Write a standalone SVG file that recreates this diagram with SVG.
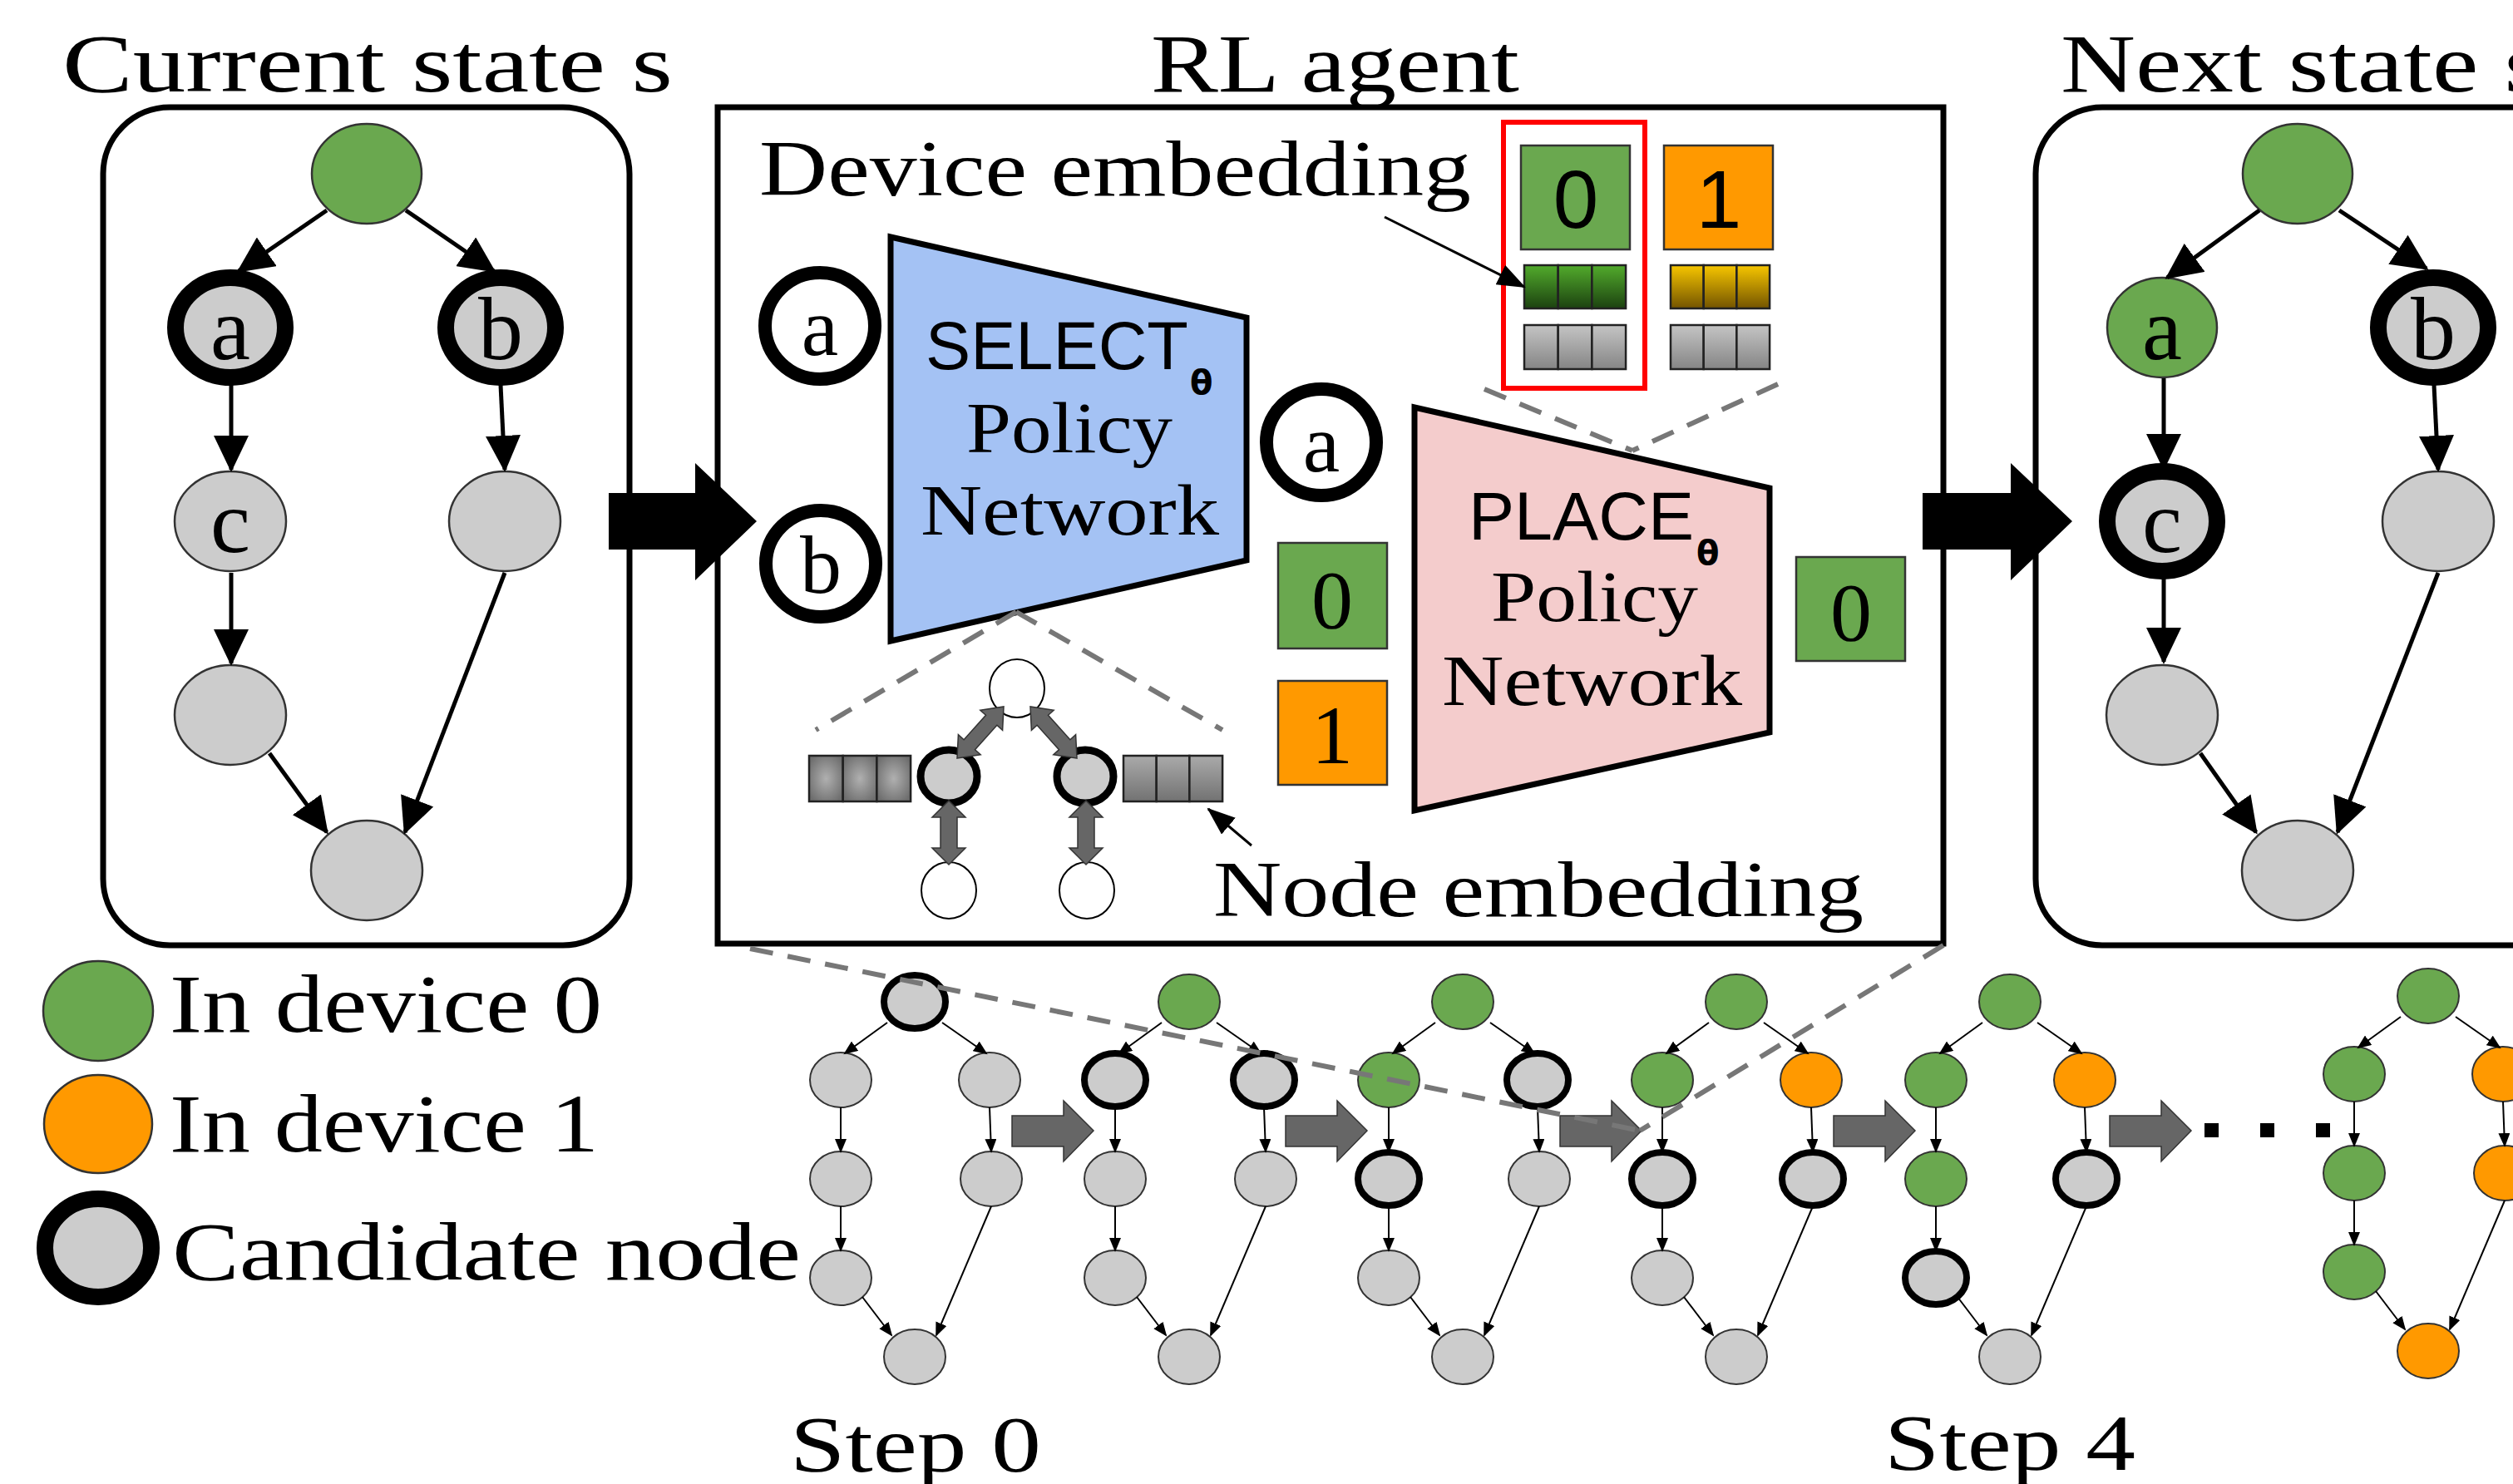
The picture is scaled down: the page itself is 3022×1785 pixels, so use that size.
<svg xmlns="http://www.w3.org/2000/svg" width="3022" height="1785" viewBox="0 0 3022 1785">
<style>
.t{font-family:"Liberation Serif","DejaVu Serif",serif;fill:#000}
.s{font-family:"Liberation Sans",Arial,sans-serif;fill:#000}
.th{font-family:"DejaVu Sans","Liberation Sans",sans-serif;font-weight:bold;fill:#000}
.g{fill:#6aa84f;stroke:#333;stroke-width:2.5}
.o{fill:#ff9900;stroke:#333;stroke-width:2.5}
.gr{fill:#cccccc;stroke:#333;stroke-width:2.5}
.cand{fill:#cccccc;stroke:#000;stroke-width:20}
.ring{fill:#fff;stroke:#000;stroke-width:16}
.sg{fill:#6aa84f;stroke:#333;stroke-width:2}
.so{fill:#ff9900;stroke:#333;stroke-width:2}
.sgr{fill:#cccccc;stroke:#333;stroke-width:2}
.sc{fill:#cccccc;stroke:#000;stroke-width:8}
.edge{stroke:#000;stroke-width:5;fill:none;marker-end:url(#ah)}
.sedge{stroke:#000;stroke-width:2;fill:none;marker-end:url(#sah)}
.ann{stroke:#000;stroke-width:3;fill:none;marker-end:url(#mah)}
.dash{stroke:#777;stroke-width:6;stroke-dasharray:28 18;fill:none}
.box{fill:none;stroke:#000;stroke-width:7}
.cell{stroke:#222;stroke-width:2.5}
.blk{fill:#666;stroke:#333;stroke-width:1.5}
</style>
<defs>
<marker id="ah" markerUnits="userSpaceOnUse" markerWidth="46" markerHeight="42" refX="41" refY="21" orient="auto"><path d="M0,0 L44,21 L0,42 z" fill="#000"/></marker>
<marker id="sah" markerUnits="userSpaceOnUse" markerWidth="18" markerHeight="14" refX="15" refY="7" orient="auto"><path d="M0,0 L17,7 L0,14 z" fill="#000"/></marker>
<marker id="mah" markerUnits="userSpaceOnUse" markerWidth="36" markerHeight="26" refX="32" refY="13" orient="auto"><path d="M0,0 L34,13 L0,26 z" fill="#000"/></marker>
<linearGradient id="gG" x1="0" y1="0" x2="0" y2="1"><stop offset="0" stop-color="#52ab2c"/><stop offset="1" stop-color="#1c4210"/></linearGradient>
<linearGradient id="gO" x1="0" y1="0" x2="0" y2="1"><stop offset="0" stop-color="#f7c600"/><stop offset="1" stop-color="#735400"/></linearGradient>
<linearGradient id="gY" x1="0" y1="0" x2="0" y2="1"><stop offset="0" stop-color="#c4c4c4"/><stop offset="1" stop-color="#858585"/></linearGradient>
<linearGradient id="gV" x1="0" y1="0" x2="0" y2="1"><stop offset="0" stop-color="#aaa"/><stop offset="1" stop-color="#727272"/></linearGradient>
<radialGradient id="gR" cx="0.5" cy="0.5" r="0.6"><stop offset="0" stop-color="#b0b0b0"/><stop offset="1" stop-color="#6e6e6e"/></radialGradient>
</defs>

<!-- titles -->
<text class="t" x="75" y="110" font-size="100" textLength="734" lengthAdjust="spacingAndGlyphs">Current state s</text>
<text class="t" x="1384" y="110" font-size="100" textLength="443" lengthAdjust="spacingAndGlyphs">RL agent</text>
<text class="t" x="2478" y="110" font-size="100" textLength="582" lengthAdjust="spacingAndGlyphs">Next state s</text>

<!-- containers -->
<rect id="current-state" class="box" x="124" y="129" width="633" height="1008" rx="80" ry="80"/>
<rect id="next-state" class="box" x="2448" y="129" width="700" height="1008" rx="80" ry="80"/>
<rect id="rl-agent" class="box" x="863" y="129" width="1474" height="1006"/>

<!-- left panel nodes -->
<g id="cur-top"><ellipse class="g" cx="441" cy="209" rx="66" ry="60"/></g>
<g id="cur-a"><ellipse class="cand" cx="277" cy="394" rx="66" ry="60"/><text class="t" x="277" y="432" font-size="108" text-anchor="middle">a</text></g>
<g id="cur-b"><ellipse class="cand" cx="602" cy="394" rx="66" ry="60"/><text class="t" x="602" y="432" font-size="108" text-anchor="middle">b</text></g>
<g id="cur-c"><ellipse class="gr" cx="277" cy="627" rx="67" ry="60"/><text class="t" x="277" y="664" font-size="108" text-anchor="middle">c</text></g>
<g id="cur-r2"><ellipse class="gr" cx="607" cy="627" rx="67" ry="60"/></g>
<g id="cur-r3"><ellipse class="gr" cx="277" cy="860" rx="67" ry="60"/></g>
<g id="cur-bottom"><ellipse class="gr" cx="441" cy="1047" rx="67" ry="60"/></g>

<!-- right panel nodes -->
<g id="next-top"><ellipse class="g" cx="2763" cy="209" rx="66" ry="60"/></g>
<g id="next-a"><ellipse class="g" cx="2600" cy="394" rx="66" ry="60"/><text class="t" x="2600" y="432" font-size="108" text-anchor="middle">a</text></g>
<g id="next-b"><ellipse class="cand" cx="2926" cy="394" rx="66" ry="60"/><text class="t" x="2926" y="432" font-size="108" text-anchor="middle">b</text></g>
<g id="next-c"><ellipse class="cand" cx="2600" cy="627" rx="66" ry="60"/><text class="t" x="2600" y="664" font-size="108" text-anchor="middle">c</text></g>
<g id="next-r2"><ellipse class="gr" cx="2932" cy="627" rx="67" ry="60"/></g>
<g id="next-r3"><ellipse class="gr" cx="2600" cy="860" rx="67" ry="60"/></g>
<g id="next-bottom"><ellipse class="gr" cx="2763" cy="1047" rx="67" ry="60"/></g>

<!-- RL agent contents -->
<text class="t" x="913" y="235" font-size="96" textLength="856" lengthAdjust="spacingAndGlyphs">Device embedding</text>

<g id="select-net">
<polygon points="1071,285 1499,382 1499,674 1071,771" fill="#a4c2f4" stroke="#000" stroke-width="7"/>
<text class="s" x="1113" y="444" font-size="82" textLength="316" lengthAdjust="spacingAndGlyphs">SELECT</text>
<text class="th" x="1431" y="474" font-size="40">θ</text>
<text class="t" x="1162" y="544" font-size="86" textLength="248" lengthAdjust="spacingAndGlyphs">Policy</text>
<text class="t" x="1107" y="643" font-size="86" textLength="359" lengthAdjust="spacingAndGlyphs">Network</text>
</g>

<g id="place-net">
<polygon points="1701,490 2128,587 2128,881 1701,975" fill="#f4cccc" stroke="#000" stroke-width="7"/>
<text class="s" x="1766" y="649" font-size="82" textLength="271" lengthAdjust="spacingAndGlyphs">PLACE</text>
<text class="th" x="2040" y="679" font-size="40">θ</text>
<text class="t" x="1793" y="747" font-size="86" textLength="249" lengthAdjust="spacingAndGlyphs">Policy</text>
<text class="t" x="1734" y="848" font-size="86" textLength="361" lengthAdjust="spacingAndGlyphs">Network</text>
</g>

<g id="in-a"><ellipse class="ring" cx="986" cy="392" rx="66" ry="64"/><text class="t" x="986" y="427" font-size="100" text-anchor="middle">a</text></g>
<g id="in-b"><ellipse class="ring" cx="987" cy="678" rx="66" ry="64"/><text class="t" x="987" y="713" font-size="100" text-anchor="middle">b</text></g>
<g id="mid-a"><ellipse class="ring" cx="1589" cy="532" rx="66" ry="64"/><text class="t" x="1589" y="567" font-size="100" text-anchor="middle">a</text></g>

<g id="mid-0"><rect x="1537" y="653" width="131" height="127" fill="#6aa84f" stroke="#333" stroke-width="2.5"/><text class="t" x="1602" y="755" font-size="100" text-anchor="middle">0</text></g>
<g id="mid-1"><rect x="1537" y="819" width="131" height="125" fill="#ff9900" stroke="#333" stroke-width="2.5"/><text class="t" x="1602" y="918" font-size="100" text-anchor="middle">1</text></g>
<g id="out-0"><rect x="2160" y="670" width="131" height="125" fill="#6aa84f" stroke="#333" stroke-width="2.5"/><text class="t" x="2226" y="770" font-size="100" text-anchor="middle">0</text></g>

<g id="device-0">
<rect x="1829" y="175" width="131" height="125" fill="#6aa84f" stroke="#333" stroke-width="2.5"/>
<text class="s" x="1895" y="274" font-size="98" text-anchor="middle">0</text>
<rect class="cell" x="1833" y="319" width="40.7" height="52" fill="url(#gG)"/>
<rect class="cell" x="1873.7" y="319" width="40.7" height="52" fill="url(#gG)"/>
<rect class="cell" x="1914.4" y="319" width="40.7" height="52" fill="url(#gG)"/>
<rect class="cell" x="1833" y="391" width="40.7" height="53" fill="url(#gY)"/>
<rect class="cell" x="1873.7" y="391" width="40.7" height="53" fill="url(#gY)"/>
<rect class="cell" x="1914.4" y="391" width="40.7" height="53" fill="url(#gY)"/>
</g>
<g id="device-1">
<rect x="2001" y="175" width="131" height="125" fill="#ff9900" stroke="#333" stroke-width="2.5"/>
<text class="s" x="2067" y="274" font-size="98" text-anchor="middle">1</text>
<rect class="cell" x="2009" y="319" width="39.7" height="52" fill="url(#gO)"/>
<rect class="cell" x="2048.7" y="319" width="39.7" height="52" fill="url(#gO)"/>
<rect class="cell" x="2088.4" y="319" width="39.7" height="52" fill="url(#gO)"/>
<rect class="cell" x="2009" y="391" width="39.7" height="53" fill="url(#gY)"/>
<rect class="cell" x="2048.7" y="391" width="39.7" height="53" fill="url(#gY)"/>
<rect class="cell" x="2088.4" y="391" width="39.7" height="53" fill="url(#gY)"/>
</g>
<rect id="red-highlight" x="1808" y="147" width="170" height="320" fill="none" stroke="#ff0000" stroke-width="6"/>

<!-- node embedding mini graph -->
<g id="emb-top"><ellipse cx="1223" cy="828" rx="33" ry="35" fill="#fff" stroke="#000" stroke-width="2"/></g>
<g id="emb-left"><ellipse cx="1141" cy="934" rx="34" ry="32" fill="#ccc" stroke="#000" stroke-width="9"/></g>
<g id="emb-right"><ellipse cx="1305" cy="934" rx="34" ry="32" fill="#ccc" stroke="#000" stroke-width="9"/></g>
<g id="emb-bl"><ellipse cx="1141" cy="1071" rx="33" ry="34" fill="#fff" stroke="#000" stroke-width="2"/></g>
<g id="emb-br"><ellipse cx="1307" cy="1071" rx="33" ry="34" fill="#fff" stroke="#000" stroke-width="2"/></g>
<g id="emb-bars-left">
<rect class="cell" x="973" y="909" width="40.7" height="55" fill="url(#gR)"/>
<rect class="cell" x="1013.7" y="909" width="40.7" height="55" fill="url(#gR)"/>
<rect class="cell" x="1054.4" y="909" width="40.7" height="55" fill="url(#gR)"/>
</g>
<g id="emb-bars-right">
<rect class="cell" x="1351" y="909" width="39.7" height="55" fill="url(#gV)"/>
<rect class="cell" x="1390.7" y="909" width="39.7" height="55" fill="url(#gV)"/>
<rect class="cell" x="1430.4" y="909" width="39.7" height="55" fill="url(#gV)"/>
</g>
<text class="t" x="1459" y="1102" font-size="96" textLength="782" lengthAdjust="spacingAndGlyphs">Node embedding</text>

<!-- legend -->
<g id="legend-dev0"><ellipse class="g" cx="118" cy="1216" rx="66" ry="60"/><text class="t" x="204" y="1241" font-size="100" textLength="520" lengthAdjust="spacingAndGlyphs">In device 0</text></g>
<g id="legend-dev1"><ellipse class="o" cx="118" cy="1352" rx="65" ry="59"/><text class="t" x="204" y="1385" font-size="100" textLength="516" lengthAdjust="spacingAndGlyphs">In device 1</text></g>
<g id="legend-cand"><ellipse class="cand" cx="118" cy="1501" rx="64" ry="59"/><text class="t" x="207" y="1539" font-size="100" textLength="756" lengthAdjust="spacingAndGlyphs">Candidate node</text></g>

<!-- steps -->
<g id="step0" transform="translate(1100,0)">
<ellipse class="sc" cx="0" cy="1205" rx="37" ry="32"/>
<ellipse class="sgr" cx="-89" cy="1299" rx="37" ry="33"/>
<ellipse class="sgr" cx="90" cy="1299" rx="37" ry="33"/>
<ellipse class="sgr" cx="-89" cy="1418" rx="37" ry="33"/>
<ellipse class="sgr" cx="92" cy="1418" rx="37" ry="33"/>
<ellipse class="sgr" cx="-89" cy="1537" rx="37" ry="33"/>
<ellipse class="sgr" cx="0" cy="1632" rx="37" ry="33"/>
</g>
<g id="step1" transform="translate(1430,0)">
<ellipse class="sg" cx="0" cy="1205" rx="37" ry="33"/>
<ellipse class="sc" cx="-89" cy="1299" rx="37" ry="32"/>
<ellipse class="sc" cx="90" cy="1299" rx="37" ry="32"/>
<ellipse class="sgr" cx="-89" cy="1418" rx="37" ry="33"/>
<ellipse class="sgr" cx="92" cy="1418" rx="37" ry="33"/>
<ellipse class="sgr" cx="-89" cy="1537" rx="37" ry="33"/>
<ellipse class="sgr" cx="0" cy="1632" rx="37" ry="33"/>
</g>
<g id="step2" transform="translate(1759,0)">
<ellipse class="sg" cx="0" cy="1205" rx="37" ry="33"/>
<ellipse class="sg" cx="-89" cy="1299" rx="37" ry="33"/>
<ellipse class="sc" cx="90" cy="1299" rx="37" ry="32"/>
<ellipse class="sc" cx="-89" cy="1418" rx="37" ry="32"/>
<ellipse class="sgr" cx="92" cy="1418" rx="37" ry="33"/>
<ellipse class="sgr" cx="-89" cy="1537" rx="37" ry="33"/>
<ellipse class="sgr" cx="0" cy="1632" rx="37" ry="33"/>
</g>
<g id="step3" transform="translate(2088,0)">
<ellipse class="sg" cx="0" cy="1205" rx="37" ry="33"/>
<ellipse class="sg" cx="-89" cy="1299" rx="37" ry="33"/>
<ellipse class="so" cx="90" cy="1299" rx="37" ry="33"/>
<ellipse class="sc" cx="-89" cy="1418" rx="37" ry="32"/>
<ellipse class="sc" cx="92" cy="1418" rx="37" ry="32"/>
<ellipse class="sgr" cx="-89" cy="1537" rx="37" ry="33"/>
<ellipse class="sgr" cx="0" cy="1632" rx="37" ry="33"/>
</g>
<g id="step4" transform="translate(2417,0)">
<ellipse class="sg" cx="0" cy="1205" rx="37" ry="33"/>
<ellipse class="sg" cx="-89" cy="1299" rx="37" ry="33"/>
<ellipse class="so" cx="90" cy="1299" rx="37" ry="33"/>
<ellipse class="sg" cx="-89" cy="1418" rx="37" ry="33"/>
<ellipse class="sc" cx="92" cy="1418" rx="37" ry="32"/>
<ellipse class="sc" cx="-89" cy="1537" rx="37" ry="32"/>
<ellipse class="sgr" cx="0" cy="1632" rx="37" ry="33"/>
</g>
<g id="step-final" transform="translate(2920,-7)">
<ellipse class="sg" cx="0" cy="1205" rx="37" ry="33"/>
<ellipse class="sg" cx="-89" cy="1299" rx="37" ry="33"/>
<ellipse class="so" cx="90" cy="1299" rx="37" ry="33"/>
<ellipse class="sg" cx="-89" cy="1418" rx="37" ry="33"/>
<ellipse class="so" cx="92" cy="1418" rx="37" ry="33"/>
<ellipse class="sg" cx="-89" cy="1537" rx="37" ry="33"/>
<ellipse class="so" cx="0" cy="1632" rx="37" ry="33"/>
</g>
<text class="t" x="950" y="1770" font-size="96" textLength="302" lengthAdjust="spacingAndGlyphs">Step 0</text>
<text class="t" x="2266" y="1768" font-size="96" textLength="302" lengthAdjust="spacingAndGlyphs">Step 4</text>
<g id="dots" fill="#000">
<rect x="2651" y="1351" width="17" height="17"/>
<rect x="2718" y="1351" width="17" height="17"/>
<rect x="2785" y="1351" width="17" height="17"/>
</g>

<!-- connectors -->
<g id="connectors">
<line class="edge" x1="393" y1="253" x2="287" y2="326"/>
<line class="edge" x1="488" y1="253" x2="594" y2="326"/>
<line class="edge" x1="278" y1="462" x2="278" y2="565"/>
<line class="edge" x1="602" y1="463" x2="607" y2="565"/>
<line class="edge" x1="278" y1="689" x2="278" y2="798"/>
<line class="edge" x1="324" y1="906" x2="393" y2="1001"/>
<line class="edge" x1="607" y1="689" x2="487" y2="1001"/>

<line class="edge" x1="2717" y1="253" x2="2606" y2="334"/>
<line class="edge" x1="2813" y1="253" x2="2918" y2="323"/>
<line class="edge" x1="2602" y1="455" x2="2602" y2="563"/>
<line class="edge" x1="2927" y1="463" x2="2932" y2="565"/>
<line class="edge" x1="2602" y1="690" x2="2602" y2="796"/>
<line class="edge" x1="2646" y1="906" x2="2713" y2="1001"/>
<line class="edge" x1="2932" y1="689" x2="2811" y2="1001"/>

<g id="step-edges">
<g transform="translate(1100,0)"><line class="sedge" x1="-33" y1="1230" x2="-84" y2="1267"/><line class="sedge" x1="33" y1="1230" x2="86" y2="1267"/><line class="sedge" x1="-89" y1="1332" x2="-89" y2="1385"/><line class="sedge" x1="90" y1="1332" x2="92" y2="1385"/><line class="sedge" x1="-89" y1="1451" x2="-89" y2="1504"/><line class="sedge" x1="-63" y1="1560" x2="-28" y2="1606"/><line class="sedge" x1="92" y1="1451" x2="26" y2="1606"/></g>
<g transform="translate(1430,0)"><line class="sedge" x1="-33" y1="1230" x2="-84" y2="1267"/><line class="sedge" x1="33" y1="1230" x2="86" y2="1267"/><line class="sedge" x1="-89" y1="1332" x2="-89" y2="1385"/><line class="sedge" x1="90" y1="1332" x2="92" y2="1385"/><line class="sedge" x1="-89" y1="1451" x2="-89" y2="1504"/><line class="sedge" x1="-63" y1="1560" x2="-28" y2="1606"/><line class="sedge" x1="92" y1="1451" x2="26" y2="1606"/></g>
<g transform="translate(1759,0)"><line class="sedge" x1="-33" y1="1230" x2="-84" y2="1267"/><line class="sedge" x1="33" y1="1230" x2="86" y2="1267"/><line class="sedge" x1="-89" y1="1332" x2="-89" y2="1385"/><line class="sedge" x1="90" y1="1332" x2="92" y2="1385"/><line class="sedge" x1="-89" y1="1451" x2="-89" y2="1504"/><line class="sedge" x1="-63" y1="1560" x2="-28" y2="1606"/><line class="sedge" x1="92" y1="1451" x2="26" y2="1606"/></g>
<g transform="translate(2088,0)"><line class="sedge" x1="-33" y1="1230" x2="-84" y2="1267"/><line class="sedge" x1="33" y1="1230" x2="86" y2="1267"/><line class="sedge" x1="-89" y1="1332" x2="-89" y2="1385"/><line class="sedge" x1="90" y1="1332" x2="92" y2="1385"/><line class="sedge" x1="-89" y1="1451" x2="-89" y2="1504"/><line class="sedge" x1="-63" y1="1560" x2="-28" y2="1606"/><line class="sedge" x1="92" y1="1451" x2="26" y2="1606"/></g>
<g transform="translate(2417,0)"><line class="sedge" x1="-33" y1="1230" x2="-84" y2="1267"/><line class="sedge" x1="33" y1="1230" x2="86" y2="1267"/><line class="sedge" x1="-89" y1="1332" x2="-89" y2="1385"/><line class="sedge" x1="90" y1="1332" x2="92" y2="1385"/><line class="sedge" x1="-89" y1="1451" x2="-89" y2="1504"/><line class="sedge" x1="-63" y1="1560" x2="-28" y2="1606"/><line class="sedge" x1="92" y1="1451" x2="26" y2="1606"/></g>
<g transform="translate(2920,-7)"><line class="sedge" x1="-33" y1="1230" x2="-84" y2="1267"/><line class="sedge" x1="33" y1="1230" x2="86" y2="1267"/><line class="sedge" x1="-89" y1="1332" x2="-89" y2="1385"/><line class="sedge" x1="90" y1="1332" x2="92" y2="1385"/><line class="sedge" x1="-89" y1="1451" x2="-89" y2="1504"/><line class="sedge" x1="-63" y1="1560" x2="-28" y2="1606"/><line class="sedge" x1="92" y1="1451" x2="26" y2="1606"/></g>
</g>

<g id="step-arrows">
<polygon class="blk" points="1217,1342 1279,1342 1279,1324 1315,1360 1279,1397 1279,1379 1217,1379"/>
<polygon class="blk" points="1546,1342 1608,1342 1608,1324 1644,1360 1608,1397 1608,1379 1546,1379"/>
<polygon class="blk" points="1876,1342 1938,1342 1938,1324 1974,1360 1938,1397 1938,1379 1876,1379"/>
<polygon class="blk" points="2205,1342 2267,1342 2267,1324 2303,1360 2267,1397 2267,1379 2205,1379"/>
<polygon class="blk" points="2537,1342 2599,1342 2599,1324 2635,1360 2599,1397 2599,1379 2537,1379"/>
</g>

<g id="emb-arrows">
<polygon class="blk" points="1151,912 1179.2,907.8 1172.5,901.7 1198.9,872.3 1205.6,878.4 1207,850 1178.8,854.2 1185.5,860.3 1159.1,889.7 1152.4,883.6"/>
<polygon class="blk" points="1295,912 1266.8,907.8 1273.5,901.7 1247.1,872.3 1240.4,878.4 1239,850 1267.2,854.2 1260.5,860.3 1286.9,889.7 1293.6,883.6"/>
<polygon class="blk" points="1141,963 1121,983 1131,983 1131,1020 1121,1020 1141,1040 1161,1020 1151,1020 1151,983 1161,983"/>
<polygon class="blk" points="1306,963 1286,983 1296,983 1296,1020 1286,1020 1306,1040 1326,1020 1316,1020 1316,983 1326,983"/>
</g>

<line class="ann" x1="1665" y1="261" x2="1833" y2="345"/>
<line class="ann" x1="1505" y1="1017" x2="1453" y2="973"/>

<polygon id="arrow-in" points="732,593 836,593 836,557 910,627 836,698 836,661 732,661" fill="#000"/>
<polygon id="arrow-out" points="2312,593 2418,593 2418,557 2492,627 2418,698 2418,661 2312,661" fill="#000"/>

<g id="dashes">
<line class="dash" x1="1222" y1="736" x2="981" y2="878"/>
<line class="dash" x1="1222" y1="736" x2="1470" y2="878"/>
<line class="dash" x1="1785" y1="468" x2="1963" y2="542"/>
<line class="dash" x1="2138" y1="462" x2="1963" y2="542"/>
<line class="dash" x1="902" y1="1141" x2="1972" y2="1360"/>
<line class="dash" x1="2337" y1="1137" x2="1972" y2="1360"/>
</g>
</g>
</svg>
